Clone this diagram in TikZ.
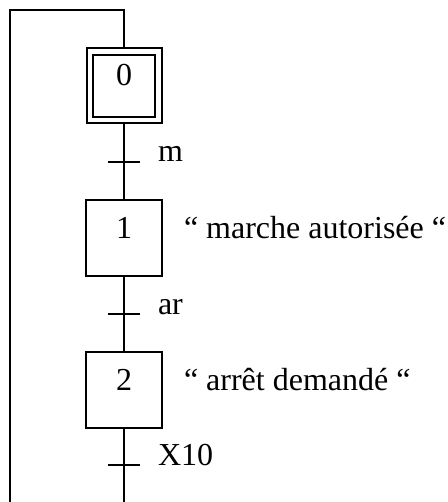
\documentclass[tikz,border=0pt]{standalone}
\usepackage{fontspec}
\setmainfont{Liberation Serif}
\usetikzlibrary{calc}

\begin{document}
\begin{tikzpicture}[x=0.5pt,y=-0.5pt,line width=1pt,
    every node/.style={font=\fontsize{16}{19}\selectfont},
    etape/.style={draw, rectangle, minimum size=38pt, inner sep=0pt, text height=10pt, text depth=10pt},
    etapeinit/.style={etape, minimum size=34.25pt, double, double distance=2.25pt, outer sep=2.125pt},
    transition/.style={fill=black, rectangle, minimum width=16pt, minimum height=1pt, inner sep=0pt, outer sep=0pt},
    recept/.style={anchor=base west, inner sep=0pt, xshift=8.5pt},
    action/.style={anchor=base west, inner sep=0pt, xshift=10pt}]
    \useasboundingbox (0,0) rectangle (447,502);
    % etapes
    \node[etapeinit] (e0) at (124,86) {0};
    \node[etape] (e1) at (124,238) {1};
    \node[etape] (e2) at (124,390) {2};
    % transitions
    \node[transition, label={[recept]east:m}] (t1) at (124,162) {};
    \node[transition, label={[recept]east:ar}] (t2) at (124,314) {};
    \node[transition, label={[recept]east:X10}] (t3) at (124,465) {};
    % actions
    \node[action] (a1) at (e1.east) {“ marche autorisée “};
    \node[action] (a2) at (e2.east) {“ arrêt demandé “};
    % liaisons
    \coordinate (fin) at (124,502);
    \coordinate (coinbas) at (10,502);
    \coordinate (coinhaut) at (10,10);
    \coordinate (retour) at (124,10);
    \draw (e0) -- (t1) -- (e1) -- (t2) -- (e2) -- (t3) -- (fin);
    \draw (coinbas) -- (coinhaut) -- (retour) -- (e0);
\end{tikzpicture}
\end{document}
